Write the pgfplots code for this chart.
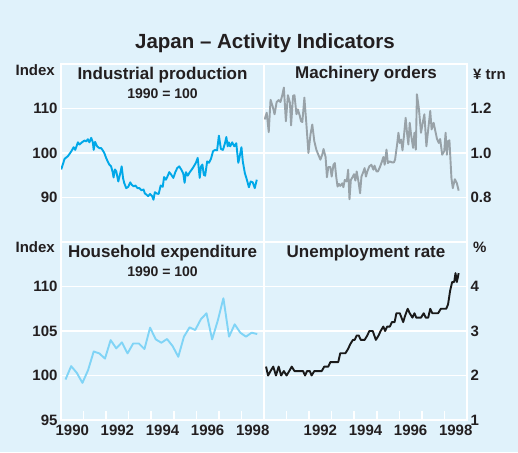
\documentclass[border=0pt]{standalone}
\usepackage{pgfplots}
\pgfplotsset{compat=1.18}
\usepackage{fontspec}
\setmainfont{Liberation Sans}
\definecolor{bg}{HTML}{E0F2FB}
\definecolor{txt}{HTML}{231F20}
\definecolor{ipc}{HTML}{00A8E8}
\definecolor{moc}{HTML}{98A2A8}
\definecolor{hec}{HTML}{80D4F6}
\definecolor{unc}{HTML}{1A1A1A}

\pgfplotsset{
  jpanel/.style={
    scale only axis, width=203pt, height=178pt,
    xmin=1990, xmax=1999,
    axis line style={white, line width=2pt},
    axis background/.style={fill=bg},
    ymajorgrids, grid style={white, line width=1.6pt},
    major tick length=0pt,
    ytick style={draw=none},
    /pgf/number format/assume math mode=true,
    tick label style={font=\bfseries\fontsize{15}{15}\selectfont, text=txt},
    xtick=\empty,
    every axis plot/.append style={line width=1.9pt, line join=round},
  },
  jbottom/.style={
    xtick pos=left,
    xtick={1991,1992,...,1998},
    xticklabels={,,,,,,,,},
    major tick length=9pt,
    xtick style={white, line width=1.6pt},
    extra x tick style={major tick length=0pt, xticklabel style={yshift=-1pt}},
  },
}

\begin{document}
\begin{tikzpicture}
\fill[bg] (0pt,0pt) rectangle (518pt,452pt);

% Industrial production
\begin{axis}[jpanel, at={(61pt,210pt)}, anchor=south west,
  ymin=80, ymax=120, ytick={90,100,110}]
\addplot[ipc] coordinates {
(1990.01,96.3) (1990.16,98.7) (1990.31,99.3) (1990.46,100.4) (1990.56,101.3) (1990.63,100.7)
(1990.75,102.4) (1990.82,101.9) (1990.93,102.4) (1991.04,102.8) (1991.12,102.6) (1991.19,103.1)
(1991.26,102.4) (1991.34,103.4) (1991.41,102.4) (1991.45,100.7) (1991.51,102.5) (1991.60,101.5)
(1991.70,101.1) (1991.78,101.1) (1991.85,100.6) (1991.92,100.0) (1992.00,98.9) (1992.07,98.1)
(1992.14,97.4) (1992.22,97.0) (1992.29,95.7) (1992.33,94.5) (1992.39,96.3) (1992.45,95.9)
(1992.54,93.6) (1992.63,95.5) (1992.69,97.0) (1992.75,94.4) (1992.80,93.3) (1992.89,92.1)
(1992.98,92.4) (1993.07,93.4) (1993.13,92.9) (1993.22,92.5) (1993.30,92.7) (1993.39,92.1)
(1993.48,92.1) (1993.57,91.6) (1993.66,91.8) (1993.72,90.9) (1993.80,90.6) (1993.86,90.3)
(1993.95,90.8) (1994.04,90.3) (1994.10,89.5) (1994.16,91.2) (1994.24,90.9) (1994.33,90.8)
(1994.42,92.7) (1994.51,92.4) (1994.57,94.6) (1994.65,94.0) (1994.71,94.6) (1994.80,95.7)
(1994.89,95.1) (1994.98,94.4) (1995.07,95.7) (1995.15,96.6) (1995.24,97.0) (1995.33,96.3)
(1995.42,95.4) (1995.48,93.3) (1995.54,95.7) (1995.62,94.9) (1995.71,95.7) (1995.80,96.3)
(1995.89,97.0) (1995.98,97.8) (1996.06,98.9) (1996.15,94.4) (1996.21,97.0) (1996.27,97.4)
(1996.33,95.1) (1996.39,94.9) (1996.48,98.1) (1996.56,97.8) (1996.65,98.7) (1996.74,100.4)
(1996.83,100.7) (1996.92,100.6) (1997.00,103.9) (1997.09,100.9) (1997.18,100.7) (1997.27,102.2)
(1997.33,103.6) (1997.39,101.5) (1997.44,102.4) (1997.50,101.5) (1997.59,102.4) (1997.68,101.5)
(1997.77,102.2) (1997.86,97.8) (1997.91,98.9) (1998.00,101.3) (1998.06,98.1) (1998.15,95.5)
(1998.24,94.0) (1998.33,92.3) (1998.41,93.6) (1998.50,93.4) (1998.59,92.1) (1998.68,94.0)
};
\end{axis}

% Machinery orders
\begin{axis}[jpanel, at={(264pt,210pt)}, anchor=south west,
  ymin=0.6, ymax=1.4, ytick={0.8,1.0,1.2}, yticklabel pos=right,
  yticklabel style={/pgf/number format/.cd, fixed, fixed zerofill, precision=1}]
\addplot[moc] coordinates {
(1990.03,1.151) (1990.12,1.181) (1990.21,1.094) (1990.29,1.239) (1990.38,1.211) (1990.47,1.174)
(1990.56,1.229) (1990.65,1.238) (1990.73,1.229) (1990.82,1.264) (1990.88,1.294) (1990.97,1.143)
(1991.06,1.260) (1991.15,1.226) (1991.20,1.124) (1991.29,1.257) (1991.35,1.260) (1991.44,1.174)
(1991.50,1.196) (1991.59,1.166) (1991.64,1.143) (1991.70,1.139) (1991.79,1.249) (1991.88,1.128)
(1991.97,1.000) (1992.06,1.083) (1992.14,1.128) (1992.23,1.053) (1992.32,1.015) (1992.41,0.992)
(1992.50,0.970) (1992.58,0.992) (1992.64,1.018) (1992.73,0.982) (1992.79,0.891) (1992.85,0.937)
(1992.94,0.937) (1993.00,0.894) (1993.08,0.947) (1993.14,0.955) (1993.20,0.894) (1993.26,0.849)
(1993.32,0.861) (1993.38,0.852) (1993.47,0.864) (1993.52,0.846) (1993.58,0.879) (1993.67,0.872)
(1993.73,0.925) (1993.79,0.792) (1993.85,0.879) (1993.94,0.894) (1993.99,0.905) (1994.05,0.876)
(1994.11,0.917) (1994.20,0.864) (1994.26,0.819) (1994.32,0.894) (1994.41,0.917) (1994.46,0.932)
(1994.52,0.894) (1994.58,0.917) (1994.67,0.940) (1994.76,0.947) (1994.85,0.925) (1994.90,0.943)
(1994.99,0.917) (1995.05,0.917) (1995.14,0.937) (1995.23,0.962) (1995.29,0.982) (1995.35,0.947)
(1995.43,1.015) (1995.49,0.955) (1995.58,0.962) (1995.67,0.958) (1995.76,0.958) (1995.81,0.970)
(1995.90,1.038) (1995.96,1.091) (1996.02,1.045) (1996.08,1.060) (1996.14,1.012) (1996.20,1.072)
(1996.28,1.158) (1996.34,1.091) (1996.40,1.038) (1996.46,1.136) (1996.52,1.083) (1996.61,1.023)
(1996.67,1.091) (1996.73,1.015) (1996.78,1.264) (1996.87,1.196) (1996.96,1.091) (1997.05,1.143)
(1997.11,1.174) (1997.20,1.030) (1997.28,1.106) (1997.37,1.189) (1997.43,1.106) (1997.52,1.136)
(1997.58,1.106) (1997.67,1.063) (1997.75,1.045) (1997.81,1.063) (1997.90,0.992) (1997.99,1.008)
(1998.05,1.091) (1998.11,0.992) (1998.16,1.053) (1998.22,1.057) (1998.31,0.887) (1998.37,0.842)
(1998.46,0.882) (1998.55,0.864) (1998.63,0.831)
};
\end{axis}

% Household expenditure
\begin{axis}[jpanel, jbottom, at={(61pt,32pt)}, anchor=south west,
  ymin=95, ymax=115, ytick={95,100,105,110},
  extra x ticks={1990.5,1992.5,1994.5,1996.5,1998.5},
  extra x tick labels={1990,1992,1994,1996,1998}]
\addplot[hec] coordinates {
(1990.20,99.55) (1990.45,101.05) (1990.70,100.3) (1990.95,99.17) (1991.20,100.6)
(1991.45,102.7) (1991.70,102.48) (1991.95,101.9) (1992.20,103.98) (1992.45,103.05)
(1992.70,103.72) (1992.95,102.48) (1993.20,103.6) (1993.45,103.6) (1993.70,102.97)
(1993.95,105.38) (1994.20,104.06) (1994.45,103.68) (1994.70,104.1) (1994.95,103.3)
(1995.20,102.1) (1995.45,104.36) (1995.70,105.41) (1995.95,105.11) (1996.20,106.32)
(1996.45,106.99) (1996.70,104.06) (1996.95,106.17) (1997.20,108.68) (1997.45,104.36)
(1997.70,105.75) (1997.95,104.81) (1998.20,104.36) (1998.45,104.81) (1998.70,104.66)
};
\end{axis}

% Unemployment rate
\begin{axis}[jpanel, jbottom, at={(264pt,32pt)}, anchor=south west,
  ymin=1, ymax=5, ytick={1,2,3,4}, yticklabel pos=right,
  extra x ticks={1992.5,1994.5,1996.5,1998.5},
  extra x tick labels={1992,1994,1996,1998}]
\addplot[unc] coordinates {
(1990.09,2.2) (1990.18,2.0) (1990.29,2.1) (1990.41,2.2) (1990.53,2.0) (1990.65,2.2)
(1990.76,2.0) (1990.88,2.1) (1991.00,2.0) (1991.12,2.1) (1991.23,2.2) (1991.35,2.1)
(1991.73,2.1) (1991.82,2.0) (1991.91,2.1) (1992.03,2.1) (1992.11,2.0) (1992.23,2.1)
(1992.56,2.1) (1992.67,2.2) (1992.85,2.2) (1992.94,2.3) (1993.29,2.3) (1993.38,2.5)
(1993.61,2.5) (1993.73,2.6) (1993.82,2.7) (1993.94,2.8) (1994.02,2.8) (1994.11,2.9)
(1994.20,2.9) (1994.29,2.8) (1994.46,2.8) (1994.58,2.9) (1994.67,3.0) (1994.82,3.0)
(1994.96,2.8) (1995.08,2.9) (1995.17,3.0) (1995.29,3.1) (1995.37,3.0) (1995.46,3.1)
(1995.58,3.1) (1995.67,3.2) (1995.79,3.2) (1995.87,3.4) (1996.02,3.4) (1996.17,3.2)
(1996.26,3.35) (1996.37,3.5) (1996.46,3.4) (1996.58,3.3) (1996.67,3.4) (1996.75,3.3)
(1996.96,3.3) (1997.08,3.4) (1997.17,3.3) (1997.28,3.3) (1997.37,3.5) (1997.46,3.4)
(1997.72,3.4) (1997.84,3.5) (1998.08,3.5) (1998.16,3.6) (1998.25,3.9) (1998.34,4.1)
(1998.43,4.1) (1998.49,4.3) (1998.55,4.1) (1998.63,4.3)
};
\end{axis}

% Texts
\node[font=\bfseries\fontsize{20.5}{20.5}\selectfont, text=txt] at (265pt,409pt) {Japan -- Activity Indicators};
\begin{scope}[every node/.style={font=\bfseries\fontsize{17}{17}\selectfont, text=txt}]
\node at (162.5pt,377pt) {Industrial production};
\node at (366pt,378pt) {Machinery orders};
\node at (162.5pt,199pt) {Household expenditure};
\node at (366pt,199pt) {Unemployment rate};
\end{scope}
\begin{scope}[every node/.style={font=\bfseries\fontsize{14}{14}\selectfont, text=txt}]
\node at (162.5pt,358pt) {1990 = 100};
\node at (162.5pt,180pt) {1990 = 100};
\end{scope}
\begin{scope}[every node/.style={font=\bfseries\fontsize{15}{15}\selectfont, text=txt, inner sep=0pt}]
\node[anchor=east] at (55pt,382pt) {Index};
\node[anchor=east] at (55pt,205pt) {Index};
\node[anchor=west] at (473pt,378pt) {¥ trn};
\node[anchor=west] at (473pt,205pt) {\%};
\end{scope}
\pgfresetboundingbox
\path[use as bounding box] (0pt,0pt) rectangle (518pt,452pt);
\end{tikzpicture}
\end{document}
